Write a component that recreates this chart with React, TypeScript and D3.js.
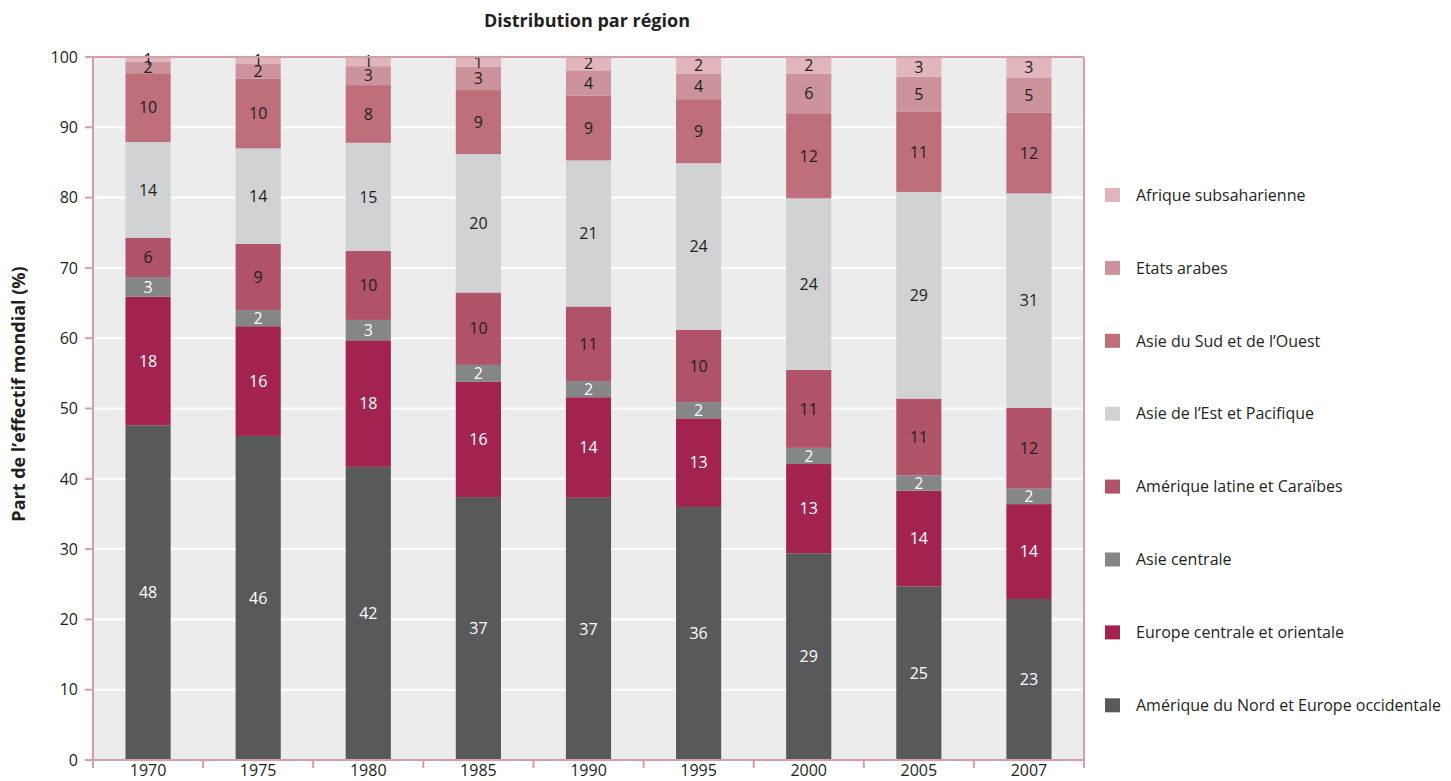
import React from "react";
import * as d3 from "d3";

const years = ["1970", "1975", "1980", "1985", "1990", "1995", "2000", "2005", "2007"];

// Series, bottom to top
const ameriqueNordEuropeOcc = [47.6, 46.1, 41.7, 37.4, 37.3, 36.0, 29.4, 24.7, 22.9];
const europeCentraleOrientale = [18.3, 15.6, 18.0, 16.4, 14.3, 12.6, 12.7, 13.6, 13.5];
const asieCentrale = [2.8, 2.3, 2.9, 2.4, 2.3, 2.3, 2.3, 2.2, 2.2];
const ameriqueLatineCaraibes = [5.6, 9.4, 9.8, 10.3, 10.6, 10.3, 11.1, 10.9, 11.5];
const asieEstPacifique = [13.6, 13.6, 15.4, 19.7, 20.8, 23.7, 24.4, 29.4, 30.5];
const asieSudOuest = [9.8, 9.9, 8.2, 9.1, 9.2, 9.1, 12.1, 11.4, 11.5];
const etatsArabes = [1.6, 2.1, 2.7, 3.3, 3.6, 3.6, 5.6, 5.0, 5.0];
const afriqueSubsaharienne = [0.7, 1.0, 1.3, 1.4, 1.9, 2.4, 2.4, 2.8, 2.9];

const seriesNames = [
  "Amérique du Nord et Europe occidentale",
  "Europe centrale et orientale",
  "Asie centrale",
  "Amérique latine et Caraïbes",
  "Asie de l’Est et Pacifique",
  "Asie du Sud et de l’Ouest",
  "Etats arabes",
  "Afrique subsaharienne",
];
const seriesValues = [
  ameriqueNordEuropeOcc,
  europeCentraleOrientale,
  asieCentrale,
  ameriqueLatineCaraibes,
  asieEstPacifique,
  asieSudOuest,
  etatsArabes,
  afriqueSubsaharienne,
];
const seriesColors = ["#58595b", "#a32350", "#858688", "#b05268", "#d1d2d4", "#be6f7b", "#cd939c", "#e0b6bc"];
const labelColors = ["#ffffff", "#ffffff", "#ffffff", "#231f20", "#231f20", "#231f20", "#231f20", "#231f20"];

const yTicks = [0, 10, 20, 30, 40, 50, 60, 70, 80, 90, 100];

const W = 1451;
const H = 781;
const left = 93;
const right = 1084;
const top = 57;
const bottom = 760;
const FONT = "'Open Sans', 'Noto Sans', sans-serif";
const AXIS = "#d49ea7";

export default function App() {
  const table = years.map((y, i) => {
    const row: any = { year: y };
    seriesNames.forEach((n, k) => (row[n] = seriesValues[k][i]));
    return row;
  });
  const stacked = d3.stack().keys(seriesNames)(table);

  const x = d3.scaleBand().domain(years).range([left, right]).paddingInner(0.59).paddingOuter(0.295);
  const y = d3.scaleLinear().domain([0, 100]).range([bottom, top]);
  const step = x.step();
  const bw = x.bandwidth();
  const boundaries = years.map((yr) => (x(yr) as number) - (step - bw) / 2).concat([right]);

  const legendOrder = [...seriesNames.keys()].reverse();

  return (
    <svg width={W} height={H} style={{ position: "absolute", left: 0, top: 0 }} fontFamily={FONT}>
      <rect x={0} y={0} width={W} height={H} fill="#ffffff" />
      <text x={587} y={27} textAnchor="middle" fontSize={18} fontWeight={700} fill="#231f20">
        Distribution par région
      </text>
      <rect x={left} y={top} width={right - left} height={bottom - top} fill="#ececec" />
      {yTicks.filter((t) => t > 0 && t < 100).map((t) => (
        <line key={t} x1={left} x2={right} y1={y(t)} y2={y(t)} stroke="#ffffff" strokeWidth={2} />
      ))}
      {stacked.map((s, k) => (
        <g key={s.key}>
          {s.map((d, i) => (
            <rect
              key={i}
              x={x(years[i])}
              width={bw}
              y={y(d[1])}
              height={y(d[0]) - y(d[1])}
              fill={seriesColors[k]}
            />
          ))}
        </g>
      ))}
      {stacked.map((s, k) => (
        <g key={s.key + "l"}>
          {s.map((d, i) => (
            <text
              key={i}
              x={(x(years[i]) as number) + bw / 2}
              y={(y(d[0]) + y(d[1])) / 2}
              dy="0.36em"
              textAnchor="middle"
              fontSize={16}
              fill={labelColors[k]}
            >
              {Math.round(seriesValues[k][i])}
            </text>
          ))}
        </g>
      ))}
      {/* frame */}
      <line x1={left} x2={right} y1={top} y2={top} stroke={AXIS} strokeWidth={2} />
      <line x1={right} x2={right} y1={top} y2={bottom} stroke={AXIS} strokeWidth={2} />
      <line x1={left} x2={left} y1={top} y2={bottom} stroke={AXIS} strokeWidth={2} />
      <line x1={left - 8} x2={right} y1={bottom} y2={bottom} stroke={AXIS} strokeWidth={2} />
      {yTicks.map((t) => (
        <g key={t}>
          <line x1={left - 8} x2={left} y1={y(t)} y2={y(t)} stroke={AXIS} strokeWidth={2} />
          <text x={78} y={y(t)} dy="0.36em" textAnchor="end" fontSize={16} fill="#231f20">
            {t}
          </text>
        </g>
      ))}
      {boundaries.map((b, i) => (
        <line key={i} x1={b} x2={b} y1={bottom} y2={bottom + 8} stroke={AXIS} strokeWidth={2} />
      ))}
      {years.map((yr) => (
        <text key={yr} x={(x(yr) as number) + bw / 2} y={776} textAnchor="middle" fontSize={16} fill="#231f20">
          {yr}
        </text>
      ))}
      <text
        transform={`translate(25, 394) rotate(-90)`}
        textAnchor="middle"
        fontSize={18}
        fontWeight={700}
        fill="#231f20"
      >
        Part de l’effectif mondial (%)
      </text>
      {legendOrder.map((k, j) => {
        const ly = 195 + j * 72.9;
        return (
          <g key={k}>
            <rect x={1105} y={ly - 7} width={15} height={14} fill={seriesColors[k]} />
            <text x={1136} y={ly} dy="0.36em" fontSize={16} fill="#231f20">
              {seriesNames[k]}
            </text>
          </g>
        );
      })}
    </svg>
  );
}
